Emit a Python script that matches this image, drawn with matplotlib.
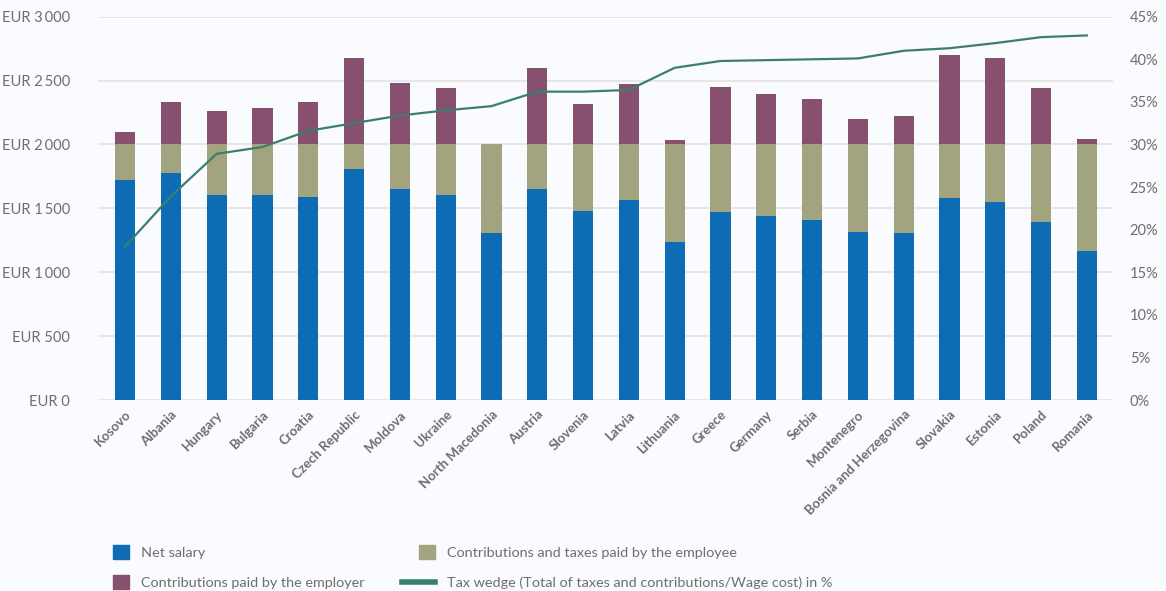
import numpy as np
import matplotlib
matplotlib.use("Agg")
import matplotlib.pyplot as plt
from matplotlib.ticker import FuncFormatter, MultipleLocator
from matplotlib.patches import Patch
from matplotlib.lines import Line2D
from matplotlib.legend_handler import HandlerBase

plt.rcParams['font.family'] = ['Lato', 'DejaVu Sans']

countries = ["Kosovo", "Albania", "Hungary", "Bulgaria", "Croatia", "Czech Republic",
             "Moldova", "Ukraine", "North Macedonia", "Austria", "Slovenia", "Latvia",
             "Lithuania", "Greece", "Germany", "Serbia", "Montenegro",
             "Bosnia and Herzegovina", "Slovakia", "Estonia", "Poland", "Romania"]

# EUR, gross wage normalised to 2000
net_salary = [1721, 1775, 1603, 1603, 1588, 1807, 1650, 1603, 1306, 1650, 1478,
              1564, 1235, 1470, 1439, 1407, 1313, 1306, 1580, 1548, 1392, 1165]
gross_wage = [2000, 2000, 2000, 2000, 2000, 2000, 2000, 2000, 2003, 2000, 2000,
              2000, 2000, 2000, 2000, 2000, 2000, 2000, 2000, 2000, 2000, 2000]
wage_cost = [2097, 2332, 2261, 2285, 2332, 2676, 2480, 2441, 2003, 2598, 2316,
             2473, 2034, 2449, 2394, 2355, 2199, 2222, 2700, 2676, 2441, 2042]
tax_wedge = [18.0, 23.9, 28.9, 29.7, 31.6, 32.5, 33.4, 34.0, 34.5, 36.2, 36.2,
             36.4, 39.0, 39.8, 39.9, 40.0, 40.1, 41.0, 41.3, 41.9, 42.6, 42.8]

c_net = "#0d6cb3"
c_emp = "#a1a47f"
c_empr = "#87506f"
c_line = "#3a7f6e"
bg = "#f9fbfe"
txt = "#6e6e6e"

net = np.array(net_salary)
employee = np.array(gross_wage) - net
employer = np.array(wage_cost) - np.array(gross_wage)


class LongLineHandler(HandlerBase):
    # legend line that sticks out to the left of the square handles
    def create_artists(self, legend, orig, xdescent, ydescent, width, height, fontsize, trans):
        y = height / 2 - ydescent
        ln = Line2D([-xdescent - 1.1 * width, width - xdescent], [y, y],
                    color=orig.get_color(), linewidth=orig.get_linewidth(), transform=trans)
        return [ln]


fig = plt.figure(figsize=(11.66, 5.91), dpi=100, facecolor=bg)
ax = fig.add_axes([98/1166, 1 - 400/591, (1113-98)/1166, (400-16.7)/591])
ax.set_facecolor(bg)
x = np.arange(len(countries))
w = 0.44
ax.bar(x, net, w, color=c_net, zorder=2)
ax.bar(x, employee, w, bottom=net, color=c_emp, zorder=2)
ax.bar(x, employer, w, bottom=gross_wage, color=c_empr, zorder=2)

ax.set_ylim(0, 3000)
ax.set_xlim(-0.59, len(countries) - 1 + 0.57)
ax.yaxis.set_major_locator(MultipleLocator(500))
ax.yaxis.set_major_formatter(FuncFormatter(lambda v, p: "EUR " + format(int(v), ",").replace(",", "\u2009")))
ax.grid(axis='y', color="#e4e4e4", linewidth=1.3, zorder=0)
for s in ax.spines.values():
    s.set_visible(False)
ax.tick_params(axis='y', length=0, labelsize=10.5, labelcolor=txt, pad=20)
ax.tick_params(axis='x', length=0, pad=6)
ax.set_xticks(x)
ax.set_xticklabels(countries, rotation=45, ha='right', rotation_mode='anchor',
                   fontsize=9.5, fontweight='bold', color=txt)

ax2 = ax.twinx()
ax2.plot(x, tax_wedge, color=c_line, linewidth=1.6, zorder=3)
ax2.set_ylim(0, 45)
ax2.yaxis.set_major_locator(MultipleLocator(5))
ax2.yaxis.set_major_formatter(FuncFormatter(lambda v, p: "%d%%" % v))
for s in ax2.spines.values():
    s.set_visible(False)
ax2.tick_params(axis='y', length=0, labelsize=10.5, labelcolor=txt, pad=12)

wedge_handle = Line2D([], [], color=c_line, linewidth=4)
handles = [Patch(color=c_net), Patch(color=c_empr), Patch(color=c_emp), wedge_handle]
labels = ["Net salary", "Contributions paid by the employer",
          "Contributions and taxes paid by the employee",
          "Tax wedge (Total of taxes and contributions/Wage cost) in %"]
fig.legend(handles, labels, ncol=2, loc='upper left', bbox_to_anchor=(113/1166, 1 - 545/591),
           frameon=False, fontsize=10.4, labelcolor=txt, handlelength=1.1, handleheight=1.1,
           columnspacing=3.8, labelspacing=1.15, handletextpad=0.83, borderpad=0,
           borderaxespad=0, handler_map={wedge_handle: LongLineHandler()})

fig.savefig("out.png", dpi=100, facecolor=bg)
